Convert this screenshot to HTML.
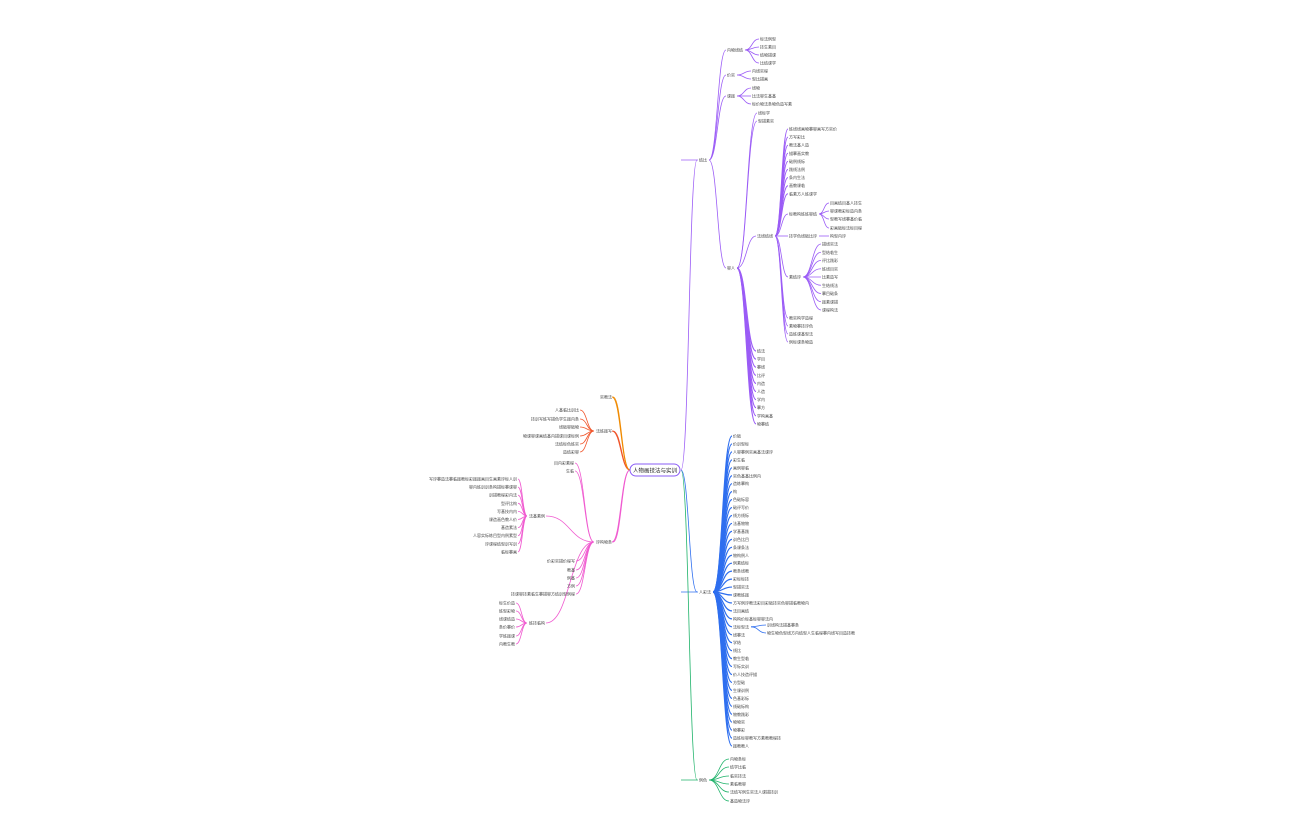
<!DOCTYPE html>
<html><head><meta charset="utf-8">
<style>
html,body{margin:0;padding:0;background:#fff;width:1296px;height:840px;overflow:hidden}
svg{display:block}
text{font-family:"Liberation Sans","Noto Sans CJK SC",sans-serif;font-size:4px;fill:#444}
</style></head><body>
<svg id="s" width="1296" height="840" xmlns="http://www.w3.org/2000/svg">
<rect x="630" y="464" width="50" height="12" rx="6" fill="#fff" stroke="#8a5cf6" stroke-width="1"/>
<text x="655" y="472.5" text-anchor="middle" style="font-size:5.5px;fill:#222">人物画技法与实训</text>
</svg>
<script>
const s=document.getElementById('s');
const NS='http://www.w3.org/2000/svg';
const chars='教学目标内容课程人物画技法基础造型线条结构比例色彩素描临摹写生训练方法评价实践';
let seed=7;function rnd(){seed=(seed*9301+49297)%233280;return seed/233280;}
function txt(n){let t='';for(let i=0;i<n;i++)t+=chars[Math.floor(rnd()*chars.length)];return t;}
function link(px,py,cx,cy,c,w){
 const p=document.createElementNS(NS,'path');
 const mx=(px+cx)/2;
 p.setAttribute('d',`M${px},${py} C${mx},${py} ${mx},${cy} ${cx},${cy}`);
 p.setAttribute('fill','none');p.setAttribute('stroke',c);p.setAttribute('stroke-width',w||0.8);
 s.insertBefore(p,s.firstChild);
}
function label(x,y,t,anchor){
 const e=document.createElementNS(NS,'text');e.setAttribute('x',x);e.setAttribute('y',y+1.5);
 if(anchor)e.setAttribute('text-anchor',anchor);e.textContent=t;s.appendChild(e);
}
// right node: parent end (px,py), child at x,y
function R(px,py,x,y,c,n,w){link(px,py,x-1,y,c,w);label(x,y,txt(n||4));return [x+(n||4)*4+2,y];}
function L(px,py,x,y,c,n,w){link(px,py,x+1,y,c,w);label(x,y,txt(n||4),'end');return [x-(n||4)*4-2,y];}
const P='#9b5cf6',B='#2f6fef',G='#1fb36a',O='#f08a00',RD='#f0542a',PK='#f05ad0';
// root links
link(681,470,697,160,P,0.8);link(681,470,697,592,B,0.8);link(681,470,697,780,G,0.8);
link(630,470,612,397,O,1);link(630,470,612,431,RD,1);link(630,470,612,542,PK,1);
// purple branch
let a=R(681,160,699,160,P,2);
let b=R(a[0],160,727,50,P,4);[39,47,55,63].forEach(y=>R(b[0],50,760,y,P,4));
b=R(a[0],160,727,75,P,2);[71,79].forEach(y=>R(b[0],75,752,y,P,4));
b=R(a[0],160,727,96,P,2);[88,96,104].forEach((y,i)=>R(b[0],96,752,y,P,[2,6,10][i]));
b=R(a[0],160,727,268,P,2);
R(b[0],268,758,113,P,3);R(b[0],268,758,121,P,4);
let c=R(b[0],268,757,236,P,4);
for(let i=0;i<9;i++)R(c[0],236,789,129+i*8.1,P,[12,4,5,5,4,4,4,4,7][i],1);
let d=R(c[0],236,789,214,P,7);[203,211,219,228].forEach(y=>R(d[0],214,830,y,P,8));
d=R(c[0],236,789,236,P,7);R(d[0],236,830,236,P,4);
d=R(c[0],236,789,277,P,3);for(let i=0;i<9;i++)R(d[0],277,822,244+i*8.25,P,4);
[318,326,334,342].forEach(y=>R(c[0],236,789,y,P,6));
for(let i=0;i<10;i++)R(b[0],268,757,351+i*8.1,P,[2,2,2,2,2,2,2,2,4,3][i],1.2);
// blue branch
a=R(681,592,699,592,B,3);
let bl=[];for(let i=0;i<40;i++)bl.push(436+i*7.95);
bl.forEach((y,i)=>{const n=[2,4,10,3,4,7,4,1,4,4,4,4,4,4,4,4,4,4,4,4,4,19,4,10,4,3,2,2,4,4,6,3,4,4,4,4,3,3,12,4][i]||4;
 const r=R(a[0],592,733,y,B,n,1.2);
 if(i==24){R(r[0],y,767,625,B,8);R(r[0],y,767,633,B,22);}
});
// green
a=R(681,780,699,780,G,2);
[759,767,776,784,792,801].forEach((y,i)=>R(a[0],780,730,y,G,[4,4,4,4,12,5][i]));
// left
L(630,470,612,397,O,3);
a=L(630,470,612,431,RD,4);
[410,419,427,436,444,452].forEach((y,i)=>L(a[0],431,579,y,RD,[6,12,5,14,6,4][i]));
a=L(630,470,612,542,PK,4);
L(a[0],542,574,463,PK,5);L(a[0],542,574,471,PK,2);
b=L(a[0],542,545,516,PK,4);
for(let i=0;i<10;i++)L(b[0],516,517,479+i*8.1,PK,[22,12,7,4,5,7,4,11,8,4][i]);
[561,570,578,586,594].forEach((y,i)=>L(a[0],542,575,y,PK,[7,2,2,2,16][i]));
b=L(a[0],542,545,623,PK,4);
[603,611,619,627,636,644].forEach(y=>L(b[0],623,515,y,PK,4));
</script>
</body></html>
